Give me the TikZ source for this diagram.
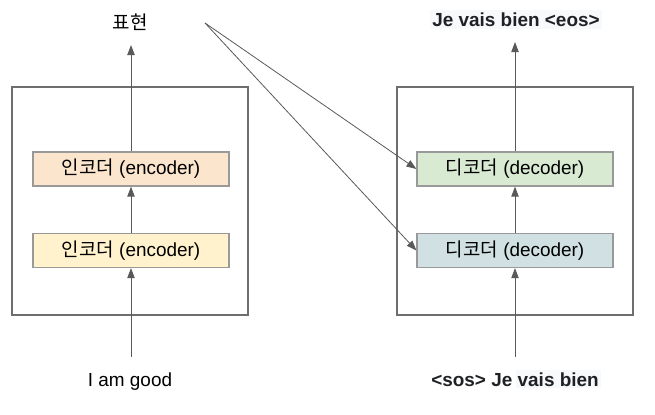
\documentclass[tikz,border=0pt]{standalone}
\usepackage{fontspec}
\setmainfont{Liberation Sans}
\newfontfamily\kr{Noto Sans CJK KR}
\usetikzlibrary{arrows.meta}
\definecolor{frame}{HTML}{6E6E6E}
\definecolor{boxline}{HTML}{999999}
\definecolor{arr}{HTML}{595959}
\definecolor{encA}{HTML}{FCE5CD}
\definecolor{encB}{HTML}{FFF2CC}
\definecolor{decA}{HTML}{D9EAD3}
\definecolor{decB}{HTML}{D0E0E3}
\definecolor{hl}{HTML}{F8F9FA}
\definecolor{txt}{HTML}{202124}
\begin{document}
\begin{tikzpicture}[x=0.75pt,y=-0.75pt,
  font=\fontsize{14.2}{17}\selectfont,
  outerbox/.style={draw=frame,line width=0.8pt,minimum width=236*0.75pt,minimum height=228*0.75pt,inner sep=0pt},
  block/.style={draw=boxline,line width=0.9pt,minimum width=196*0.75pt,minimum height=34*0.75pt,inner sep=0pt},
  flow/.style={draw=arr,line width=0.7pt,-{Triangle[length=7.5pt,width=5.5pt]}},
  link/.style={draw=arr,line width=0.6pt,-{Triangle[length=7.5pt,width=5.5pt]}}]
\useasboundingbox (0,0) rectangle (655,414);
% outer frames
\node[outerbox] (encframe) at (130,201) {};
\node[outerbox] (decframe) at (515,201) {};
% blocks
\node[block,fill=encA] (enc2) at (131,169) {{\kr 인코더} (encoder)};
\node[block,fill=encB] (enc1) at (131,250.5) {{\kr 인코더} (encoder)};
\node[block,fill=decA] (dec2) at (515,169) {{\kr 디코더} (decoder)};
\node[block,fill=decB] (dec1) at (515,250.5) {{\kr 디코더} (decoder)};
% labels
\node[anchor=base,inner sep=0pt] (rep) at (130,29) {\kr 표현};
\node[anchor=base,inner sep=2pt,fill=hl,text=txt,font=\fontsize{14.2}{17}\selectfont\bfseries] (out) at (516,26) {Je vais bien <eos>};
\node[anchor=base,inner sep=0pt] (inp) at (130,386) {I am good};
\node[anchor=base,inner sep=0pt,text=txt,font=\fontsize{14.2}{17}\selectfont\bfseries] (dinp) at (516,386) {<sos> Je\hspace{2.5pt}{\setlength{\fboxsep}{1.5pt}\colorbox{hl}{vais bien}}};
% coordinates
\coordinate (repTip) at (131,45);
\coordinate (outTip) at (515,42);
\coordinate (inpStart) at (131,357);
\coordinate (dinpStart) at (515,357);
\coordinate (repSrc) at (205,23);
% arrows
\draw[flow] (inpStart) -- (enc1.south);
\draw[flow] (enc1.north) -- (enc2.south);
\draw[flow] (enc2.north) -- (repTip);
\draw[flow] (dinpStart) -- (dec1.south);
\draw[flow] (dec1.north) -- (dec2.south);
\draw[flow] (dec2.north) -- (outTip);
\draw[link] (repSrc) -- (dec2.west);
\draw[link] (repSrc) -- (dec1.west);
\end{tikzpicture}
\end{document}
